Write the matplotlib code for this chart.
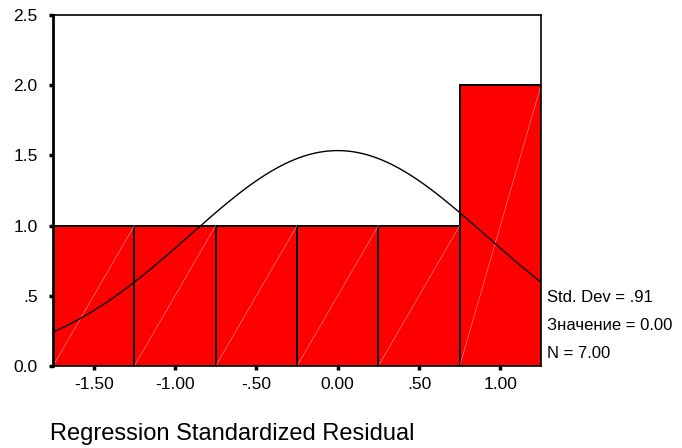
import numpy as np
import matplotlib
matplotlib.use("Agg")
import matplotlib.pyplot as plt

# histogram of regression standardized residuals
bin_edges = [-1.75, -1.25, -0.75, -0.25, 0.25, 0.75, 1.25]
counts = [1, 1, 1, 1, 1, 2]
std_dev = 0.91
mean = 0.00
n_obs = 7

x_ticks = [-1.5, -1.0, -0.5, 0.0, 0.5, 1.0]
x_labels = ["-1.50", "-1.00", "-.50", "0.00", ".50", "1.00"]
y_ticks = [0.0, 0.5, 1.0, 1.5, 2.0, 2.5]
y_labels = ["0.0", ".5", "1.0", "1.5", "2.0", "2.5"]

plt.rcParams['font.family'] = ['Liberation Sans', 'DejaVu Sans']

fig = plt.figure(figsize=(6.82, 4.48), dpi=100)
ax = fig.add_axes([0.0777, 0.183, 0.7156, 0.7835])

lefts = np.array(bin_edges[:-1])
widths = np.diff(bin_edges)
ax.bar(lefts, counts, width=widths, align='edge', color='#ff0000',
       edgecolor='black', linewidth=1.4, zorder=2)

# faint diagonal streaks inside each bar
for l, w, c in zip(lefts, widths, counts):
    ax.plot([l, l + w], [0, c], color='#ff9e9e', lw=0.4, zorder=3)

# fitted normal curve from the stated statistics
bw = widths[0]
xs = np.linspace(bin_edges[0], bin_edges[-1], 300)
ys = n_obs * bw / (std_dev * np.sqrt(2 * np.pi)) * np.exp(-0.5 * ((xs - mean) / std_dev) ** 2)
ax.plot(xs, ys, color='black', lw=1.0, zorder=4)

ax.set_xlim(bin_edges[0], bin_edges[-1])
ax.set_ylim(0, 2.5)
ax.set_xticks(x_ticks)
ax.set_xticklabels(x_labels)
ax.set_yticks(y_ticks)
ax.set_yticklabels(y_labels)
ax.tick_params(axis='both', labelsize=12.5, length=3, width=2.5, color='black')
ax.tick_params(axis='y', pad=8)
ax.tick_params(axis='x', pad=5)

ax.spines['left'].set_linewidth(2.0)
for s in ['top', 'right', 'bottom']:
    ax.spines[s].set_linewidth(1.2)
for s in ax.spines.values():
    s.set_zorder(5)

stats = ["Std. Dev = .91", "Значение = 0.00", "N = 7.00"]
for i, t in enumerate(stats):
    fig.text(547 / 682, 1 - (298 + 28 * i) / 448, t, fontsize=12,
             ha='left', va='center')

fig.text(50 / 682, 1 - 434 / 448, "Regression Standardized Residual",
         fontsize=17, ha='left', va='center')

fig.savefig("out.png", dpi=100)
